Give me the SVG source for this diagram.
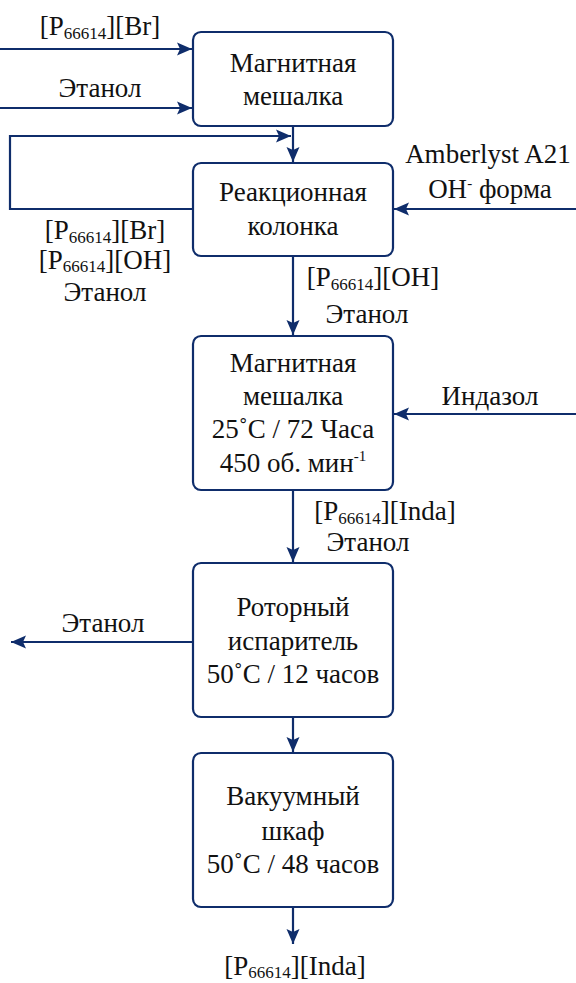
<svg xmlns="http://www.w3.org/2000/svg" width="576" height="983" viewBox="0 0 576 983">
<style>
.box{fill:#fff;stroke:#0f2d6b;stroke-width:2.2}
.ln{fill:none;stroke:#0f2d6b;stroke-width:2.2}
text{font-family:"Liberation Serif","Times New Roman","Noto Serif","DejaVu Serif","FreeSerif",serif;font-size:27px;fill:#111;text-anchor:middle}
.sub{font-size:17px}
.sup{font-size:15px}
</style>
<defs>
<marker id="ah" markerUnits="userSpaceOnUse" markerWidth="16" markerHeight="16" viewBox="0 0 16 16" refX="15" refY="8" orient="auto">
<path d="M0,1.5 L15,8 L0,14.5 L3,8 Z" fill="#0f2d6b"/>
</marker>
</defs>
<rect width="576" height="983" fill="#fff"/>
<g id="connectors">
<line class="ln" x1="0" y1="49" x2="192" y2="49" marker-end="url(#ah)"/>
<line class="ln" x1="0" y1="108" x2="192" y2="108" marker-end="url(#ah)"/>
<line class="ln" x1="293" y1="126" x2="293" y2="162" marker-end="url(#ah)"/>
<polyline class="ln" points="193,209 10,209 10,136 291,136" marker-end="url(#ah)"/>
<line class="ln" x1="576" y1="209" x2="394" y2="209" marker-end="url(#ah)"/>
<line class="ln" x1="293" y1="256" x2="293" y2="335" marker-end="url(#ah)"/>
<line class="ln" x1="576" y1="414" x2="394" y2="414" marker-end="url(#ah)"/>
<line class="ln" x1="293" y1="490" x2="293" y2="562" marker-end="url(#ah)"/>
<line class="ln" x1="193" y1="642" x2="11" y2="642" marker-end="url(#ah)"/>
<line class="ln" x1="293" y1="717" x2="293" y2="752" marker-end="url(#ah)"/>
<line class="ln" x1="293" y1="907" x2="293" y2="944" marker-end="url(#ah)"/>
</g>
<g id="labels">
<text x="100" y="35">[P<tspan class="sub" dy="4">66614</tspan><tspan dy="-4">][Br]</tspan></text>
<text x="100" y="97">Этанол</text>
<text x="488" y="163">Amberlyst A21</text>
<text x="490" y="198">OH<tspan class="sup" dy="-10">-</tspan><tspan dy="10"> форма</tspan></text>
<text x="105" y="239">[P<tspan class="sub" dy="4">66614</tspan><tspan dy="-4">][Br]</tspan></text>
<text x="105" y="269">[P<tspan class="sub" dy="3">66614</tspan><tspan dy="-3">][OH]</tspan></text>
<text x="105" y="301">Этанол</text>
<text x="373" y="286">[P<tspan class="sub" dy="4">66614</tspan><tspan dy="-4">][OH]</tspan></text>
<text x="367" y="323">Этанол</text>
<text x="490" y="405">Индазол</text>
<text x="385" y="520">[P<tspan class="sub" dy="4">66614</tspan><tspan dy="-4">][Inda]</tspan></text>
<text x="368" y="551">Этанол</text>
<text x="103" y="632">Этанол</text>
<text x="295" y="975">[P<tspan class="sub" dy="3">66614</tspan><tspan dy="-3">][Inda]</tspan></text>
</g>
<g id="node1">
<rect class="box" x="193" y="32" width="200" height="94" rx="8"/>
<text x="293" y="72">Магнитная</text>
<text x="293" y="105">мешалка</text>
</g>
<g id="node2">
<rect class="box" x="193" y="163" width="200" height="93" rx="8"/>
<text x="293" y="201">Реакционная</text>
<text x="293" y="235">колонка</text>
</g>
<g id="node3">
<rect class="box" x="193" y="336" width="200" height="154" rx="8"/>
<text x="293" y="372">Магнитная</text>
<text x="293" y="405">мешалка</text>
<text x="293" y="438">25˚C / 72 Часа</text>
<text x="293" y="472">450 об. мин<tspan class="sup" dy="-11">-1</tspan></text>
</g>
<g id="node4">
<rect class="box" x="193" y="563" width="200" height="154" rx="8"/>
<text x="293" y="616">Роторный</text>
<text x="293" y="650">испаритель</text>
<text x="293" y="683">50˚C / 12 часов</text>
</g>
<g id="node5">
<rect class="box" x="193" y="753" width="200" height="154" rx="8"/>
<text x="293" y="805">Вакуумный</text>
<text x="293" y="840">шкаф</text>
<text x="293" y="873">50˚C / 48 часов</text>
</g>
</svg>
